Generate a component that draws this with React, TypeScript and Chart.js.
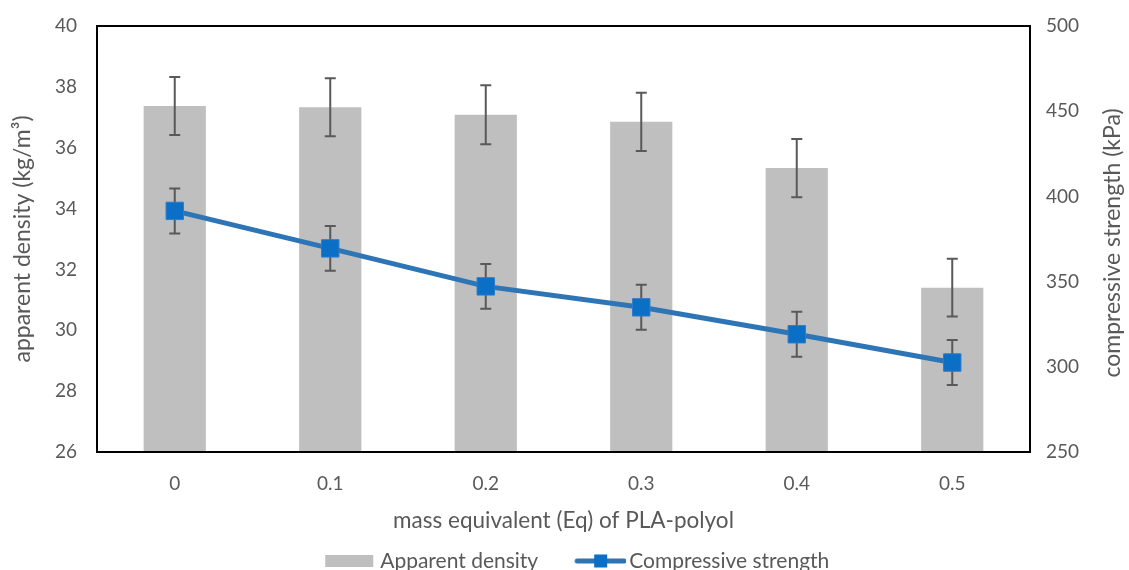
import React, { useEffect, useRef } from 'react';
import { Chart, registerables } from 'chart.js';

Chart.register(...registerables);

const categories = ['0', '0.1', '0.2', '0.3', '0.4', '0.5'];
const densityValues = [37.37, 37.33, 37.08, 36.85, 35.33, 31.4];
const densityErrors = [0.95, 0.95, 0.97, 0.96, 0.96, 0.95];
const strengthValues = [391.5, 369.5, 347.2, 334.9, 319.1, 302.5];
const strengthErrors = [13.2, 13.1, 13.2, 13.2, 13.2, 13.2];
const densityAxis = { min: 26, max: 40, step: 2 };
const strengthAxis = { min: 250, max: 500, step: 50 };

const FONT = 'Lato';
const TEXT = '#595959';
const BAR = '#BFBFBF';
const LINE = '#2E75B6';
const MARK = '#0B6FC6';
const ERR = '#595959';
const TICK_SIZE = 19;
const TITLE_SIZE = 23;
const XTITLE_SIZE = 22.5;
const LEGEND_SIZE = 21;

function makeBoxImage() {
  const c = document.createElement('canvas');
  c.width = 85;
  c.height = 12;
  const g = c.getContext('2d')!;
  g.fillStyle = BAR;
  g.fillRect(33, 0, 48, 12);
  return c;
}

function makeLineImage() {
  const c = document.createElement('canvas');
  c.width = 85;
  c.height = 16;
  const g = c.getContext('2d')!;
  g.strokeStyle = LINE;
  g.lineWidth = 5;
  g.lineCap = 'round';
  g.beginPath();
  g.moveTo(36, 8);
  g.lineTo(83, 8);
  g.stroke();
  g.fillStyle = MARK;
  g.fillRect(53, 1.5, 13, 13);
  return c;
}

function drawErrors(chart: any, index: number, values: number[], errors: number[], axis: string) {
  const meta = chart.getDatasetMeta(index);
  const scale = chart.scales[axis];
  const ctx = chart.ctx;
  ctx.save();
  ctx.strokeStyle = ERR;
  ctx.lineWidth = 2;
  meta.data.forEach((el: any, i: number) => {
    const x = el.x;
    const top = scale.getPixelForValue(values[i] + errors[i]);
    const bot = scale.getPixelForValue(values[i] - errors[i]);
    ctx.beginPath();
    ctx.moveTo(x, top);
    ctx.lineTo(x, bot);
    ctx.moveTo(x - 5.5, top);
    ctx.lineTo(x + 5.5, top);
    ctx.moveTo(x - 5.5, bot);
    ctx.lineTo(x + 5.5, bot);
    ctx.stroke();
  });
  ctx.restore();
}

const errorBarPlugin = {
  id: 'errorBars',
  afterDatasetDraw(chart: any, args: any) {
    if (args.index === 0) drawErrors(chart, 0, densityValues, densityErrors, 'y');
  },
  beforeDatasetDraw(chart: any, args: any) {
    if (args.index === 1) drawErrors(chart, 1, strengthValues, strengthErrors, 'y1');
  },
};

const framePlugin = {
  id: 'frame',
  afterDraw(chart: any) {
    const { ctx, chartArea: a } = chart;
    ctx.save();
    ctx.strokeStyle = '#000000';
    ctx.lineWidth = 2;
    ctx.strokeRect(a.left, a.top, a.right - a.left, a.bottom - a.top);
    // right axis title, reading bottom-to-top
    ctx.fillStyle = TEXT;
    ctx.font = `${TITLE_SIZE}px ${FONT}`;
    ctx.textAlign = 'center';
    ctx.textBaseline = 'middle';
    ctx.translate(1113, (a.top + a.bottom) / 2 + 4);
    ctx.rotate(-Math.PI / 2);
    ctx.fillText('compressive strength (kPa)', 0, 0);
    ctx.restore();
  },
};

export default function App() {
  const ref = useRef<HTMLCanvasElement>(null);

  useEffect(() => {
    if (!ref.current) return;
    const boxImg = makeBoxImage();
    const lineImg = makeLineImage();
    const chart = new Chart(ref.current, {
      type: 'bar',
      data: {
        labels: categories,
        datasets: [
          {
            type: 'bar',
            label: 'Apparent density',
            data: densityValues,
            backgroundColor: BAR,
            yAxisID: 'y',
            categoryPercentage: 1,
            barPercentage: 0.4,
            order: 2,
          },
          {
            type: 'line',
            label: 'Compressive strength',
            data: strengthValues,
            borderColor: LINE,
            borderWidth: 5,
            backgroundColor: MARK,
            pointStyle: 'rect',
            pointRadius: 12.3,
            pointBorderWidth: 1,
            pointBorderColor: '#2A7BD0',
            pointBackgroundColor: MARK,
            yAxisID: 'y1',
            order: 1,
          } as any,
        ],
      },
      options: {
        responsive: false,
        animation: false,
        layout: { padding: { top: 26, left: 0, right: 0, bottom: 0 } },
        plugins: {
          tooltip: { enabled: false },
          legend: {
            position: 'bottom',
            maxHeight: 30,
            labels: {
              usePointStyle: true,
              pointStyleWidth: 70,
              padding: 10.5,
              color: TEXT,
              font: { family: FONT, size: LEGEND_SIZE },
              generateLabels: () => [
                { text: 'Apparent density', pointStyle: boxImg as any, fillStyle: BAR, strokeStyle: BAR, lineWidth: 0, datasetIndex: 0, fontColor: TEXT } as any,
                { text: 'Compressive strength', pointStyle: lineImg as any, fillStyle: MARK, strokeStyle: LINE, lineWidth: 0, datasetIndex: 1, fontColor: TEXT } as any,
              ],
            },
          },
        },
        scales: {
          x: {
            grid: { display: false, drawTicks: false },
            border: { display: false },
            ticks: { color: TEXT, font: { family: FONT, size: TICK_SIZE }, padding: 20 },
            title: {
              display: true,
              text: 'mass equivalent (Eq) of PLA-polyol',
              color: TEXT,
              font: { family: FONT, size: XTITLE_SIZE },
              padding: { top: 0, bottom: 5.5 },
            },
            afterFit: (s: any) => { s.height = 88; },
          },
          y: {
            position: 'left',
            min: densityAxis.min,
            max: densityAxis.max,
            grid: { display: false, drawTicks: true, tickLength: 15 },
            border: { display: false },
            ticks: { stepSize: densityAxis.step, color: TEXT, font: { family: FONT, size: TICK_SIZE }, padding: 5 },
            title: {
              display: true,
              text: 'apparent density (kg/m³)',
              color: TEXT,
              font: { family: FONT, size: TITLE_SIZE },
              padding: { top: 8.5, bottom: 0 },
            },
            afterFit: (s: any) => { s.width = 97; },
          },
          y1: {
            position: 'right',
            min: strengthAxis.min,
            max: strengthAxis.max,
            grid: { display: false, drawTicks: true, tickLength: 12 },
            border: { display: false },
            ticks: { stepSize: strengthAxis.step, color: TEXT, font: { family: FONT, size: TICK_SIZE }, padding: 4 },
            afterFit: (s: any) => { s.width = 99; },
          },
        },
      },
      plugins: [errorBarPlugin, framePlugin],
    });
    return () => chart.destroy();
  }, []);

  return (
    <div style={{ position: 'fixed', left: 0, top: 0, width: 1129, height: 570, overflow: 'hidden', background: '#fff' }}>
      <canvas ref={ref} width={1129} height={570} style={{ display: 'block' }} />
    </div>
  );
}
